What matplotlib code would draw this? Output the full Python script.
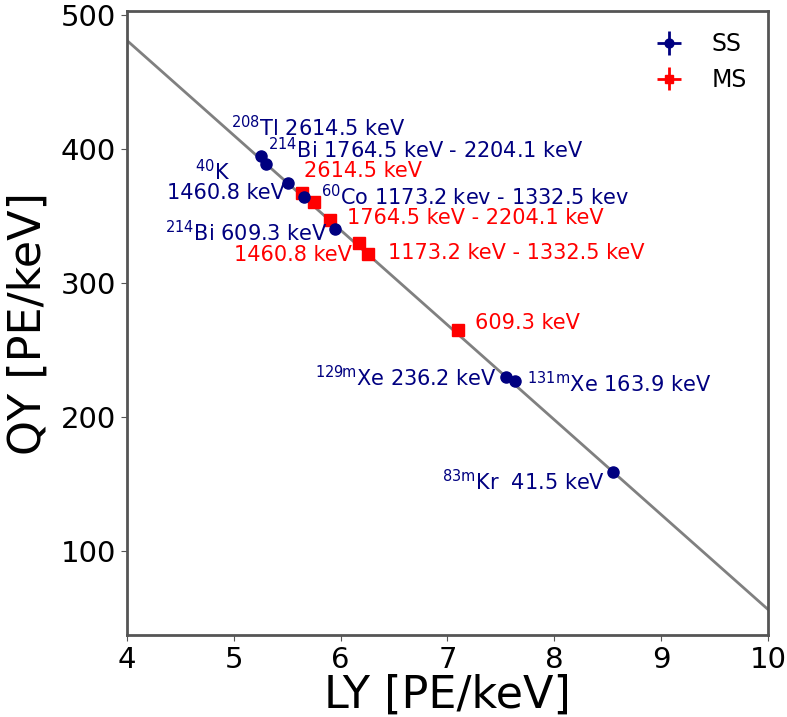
import numpy as np
import matplotlib
matplotlib.use("Agg")
import matplotlib.pyplot as plt

# Single-site (SS) peaks
ss_ly = [5.26, 5.30, 5.51, 5.66, 5.95, 7.55, 7.63, 8.55]
ss_qy = [394.8, 388.8, 374.6, 364.2, 340.3, 229.9, 226.9, 158.9]
ss_ly_err = [0.02] * len(ss_ly)
ss_qy_err = [1.5] * len(ss_qy)

# Multi-site (MS) peaks
ms_ly = [5.64, 5.75, 5.90, 6.17, 6.26, 7.10]
ms_qy = [367.2, 360.4, 347.0, 329.9, 321.6, 264.9]
ms_ly_err = [0.02] * len(ms_ly)
ms_qy_err = [1.5] * len(ms_qy)

# anti-correlation fit
fit_ly = [4.0, 10.0]
fit_intercept = 481.0   # QY at LY = 4
fit_slope = -70.8

# annotations: text, (x, y) label position
ss_labels = [
    (r"$^{\mathrm{208}}$Tl 2614.5 keV", 4.98, 415.5),
    (r"$^{\mathrm{214}}$Bi 1764.5 keV - 2204.1 keV", 5.32, 399.5),
    (r"$^{\mathrm{40}}$K", 4.64, 383.0),
    ("1460.8 keV", 4.38, 367.0),
    (r"$^{\mathrm{60}}$Co 1173.2 kev - 1332.5 kev", 5.82, 364.5),
    (r"$^{\mathrm{214}}$Bi 609.3 keV", 4.36, 337.5),
    (r"$^{\mathrm{129m}}$Xe 236.2 keV", 5.76, 229.5),
    (r"$^{\mathrm{131m}}$Xe 163.9 keV", 7.74, 225.0),
    (r"$^{\mathrm{83m}}$Kr  41.5 keV", 6.95, 152.0),
]
ms_labels = [
    ("2614.5 keV", 5.66, 383.5),
    ("1764.5 keV - 2204.1 keV", 6.06, 348.5),
    ("1460.8 keV", 5.00, 321.0),
    ("1173.2 keV - 1332.5 keV", 6.44, 322.5),
    ("609.3 keV", 7.26, 270.0),
]

fig = plt.figure(figsize=(7.87, 7.17), dpi=100)
ax = fig.add_axes([0.161, 0.114, 0.815, 0.871])

fit_qy = [fit_intercept + fit_slope * (x - 4.0) for x in fit_ly]
ax.plot(fit_ly, fit_qy, color="gray", lw=2, zorder=1)

ax.errorbar(ss_ly, ss_qy, xerr=ss_ly_err, yerr=ss_qy_err, fmt="o", color="navy",
            ms=8, elinewidth=2, label="SS", zorder=3)
ax.errorbar(ms_ly, ms_qy, xerr=ms_ly_err, yerr=ms_qy_err, fmt="s", color="red",
            ms=8, elinewidth=2, label="MS", zorder=2)

for txt, x, y in ss_labels:
    ax.text(x, y, txt, color="navy", fontsize=15, ha="left", va="center")
for txt, x, y in ms_labels:
    ax.text(x, y, txt, color="red", fontsize=15, ha="left", va="center")

ax.set_xlim(4, 10)
ax.set_ylim(37, 503)
ax.set_xticks([4, 5, 6, 7, 8, 9, 10])
ax.set_yticks([100, 200, 300, 400, 500])
ax.tick_params(labelsize=21, color="#555555", length=4)
for sp in ax.spines.values():
    sp.set_color("#555555")
    sp.set_linewidth(2)

ax.set_xlabel("LY [PE/keV]", fontsize=32, labelpad=0)
ax.set_ylabel("QY [PE/keV]", fontsize=32, labelpad=8)

ax.legend(loc="upper right", frameon=False, fontsize=17, markerscale=0.8)

fig.savefig("out.png", dpi=100)
